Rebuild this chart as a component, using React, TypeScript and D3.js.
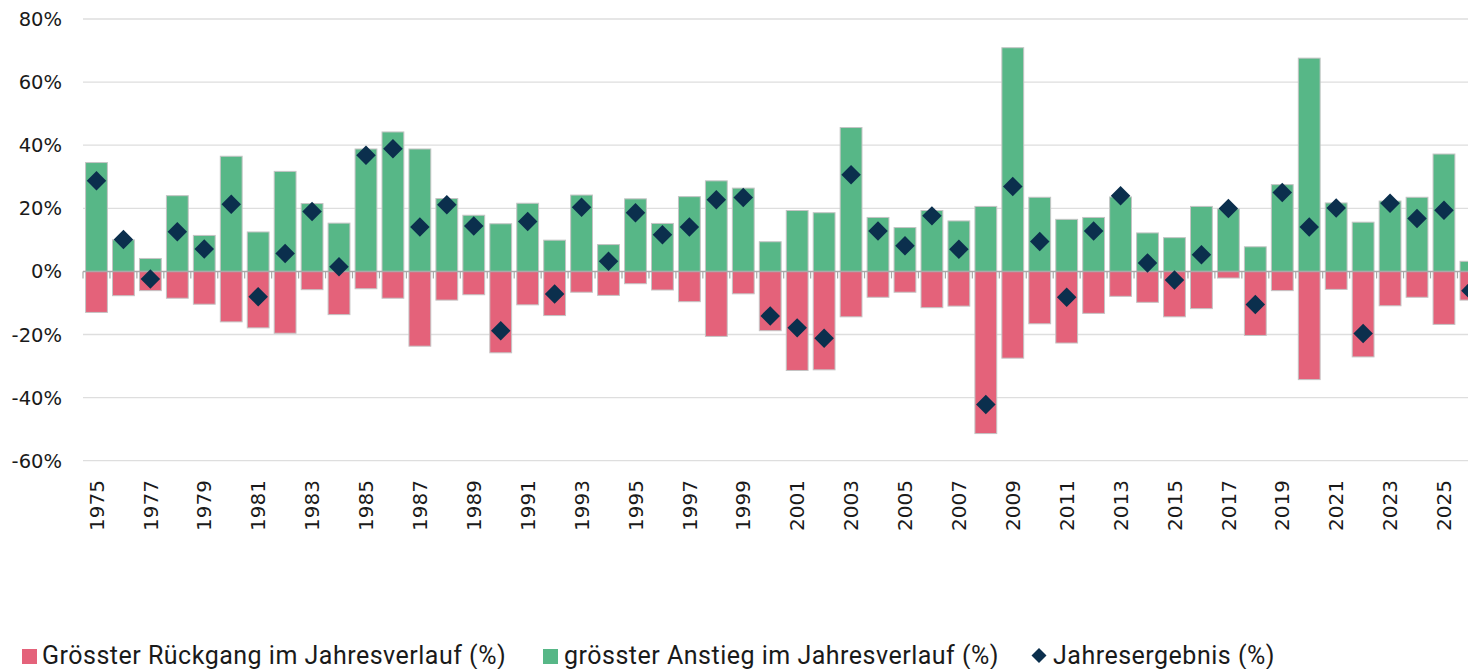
import { useEffect, useRef } from 'react'
import * as d3 from 'd3'

const W = 1468
const H = 669

const YEARS = d3.range(1975, 2027).map(String)

// grösster Anstieg im Jahresverlauf (%)
const MAX_RISE = [
  34.5, 10.0, 4.1, 24.0, 11.4, 36.5, 12.5, 31.7, 21.5, 15.3, 38.8, 44.2,
  38.8, 23.1, 17.8, 15.1, 21.6, 9.9, 24.2, 8.5, 23.0, 15.2, 23.7, 28.7, 26.4, 9.4,
  19.3, 18.6, 45.6, 17.1, 13.9, 19.3, 16.0, 20.6, 70.9, 23.5, 16.5, 17.1, 23.6, 12.2,
  10.7, 20.6, 19.8, 7.8, 27.5, 67.6, 21.7, 15.6, 22.3, 23.5, 37.2, 3.2
]

// Grösster Rückgang im Jahresverlauf (%)
const MAX_DROP = [
  -13.0, -7.7, -6.1, -8.5, -10.4, -16.0, -17.9, -19.6, -5.8, -13.7, -5.5, -8.5,
  -23.7, -9.1, -7.4, -25.8, -10.6, -14.0, -6.6, -7.6, -3.9, -5.9, -9.6, -20.6, -7.1, -18.8,
  -31.4, -31.2, -14.4, -8.2, -6.6, -11.5, -11.0, -51.4, -27.5, -16.6, -22.7, -13.3, -7.9, -9.8,
  -14.4, -11.8, -2.1, -20.3, -6.1, -34.3, -5.7, -27.1, -10.9, -8.2, -16.8, -9.1
]

// Jahresergebnis (%)
const YEAR_RESULT = [
  28.7, 10.1, -2.4, 12.6, 7.1, 21.3, -8.0, 5.7, 19.0, 1.5, 36.8, 38.9,
  14.1, 21.1, 14.4, -18.8, 15.8, -7.2, 20.3, 3.2, 18.6, 11.6, 14.1, 22.7, 23.4, -14.1,
  -17.9, -21.2, 30.6, 12.8, 8.1, 17.6, 7.0, -42.2, 26.9, 9.5, -8.2, 12.8, 24.0, 2.7,
  -2.7, 5.3, 19.9, -10.5, 25.0, 14.1, 20.1, -19.7, 21.6, 16.8, 19.4, -6.1
]

const Y_TICKS = [-60, -40, -20, 0, 20, 40, 60, 80]

const GREEN = '#57b787'
const RED = '#e4627a'
const NAVY = '#0b2f4d'

const LEGEND = [
  { label: 'Grösster Rückgang im Jahresverlauf (%)', color: RED, shape: 'square', mx: 22, tx: 42 },
  { label: 'grösster Anstieg im Jahresverlauf (%)', color: GREEN, shape: 'square', mx: 543, tx: 564 },
  { label: 'Jahresergebnis (%)', color: NAVY, shape: 'diamond', mx: 1031, tx: 1053 }
]

export default function App() {
  const ref = useRef<SVGSVGElement | null>(null)

  useEffect(() => {
    if (!ref.current) return
    const svg = d3.select(ref.current)
    svg.selectAll('*').remove()

    const left = 83
    const step = 26.95
    const x = d3
      .scaleBand<string>()
      .domain(YEARS)
      .range([left, left + step * YEARS.length])
      .paddingInner(0.19)
      .paddingOuter(0.095)
    const y = d3.scaleLinear().domain([-60, 80]).range([460.7, 19])

    // Gridlines
    svg
      .append('g')
      .selectAll('line')
      .data(Y_TICKS.filter((t) => t !== 0))
      .join('line')
      .attr('x1', left)
      .attr('x2', W)
      .attr('y1', (d) => y(d))
      .attr('y2', (d) => y(d))
      .attr('stroke', '#dedede')
      .attr('stroke-width', 1.3)

    // Y labels
    svg
      .append('g')
      .selectAll('text')
      .data(Y_TICKS)
      .join('text')
      .attr('x', 62)
      .attr('y', (d) => y(d))
      .attr('dy', '0.36em')
      .attr('text-anchor', 'end')
      .attr('font-family', 'DejaVu Sans, sans-serif')
      .attr('font-size', 19.5)
      .attr('fill', '#1a1a1a')
      .text((d) => `${d}%`)

    // Bars
    const bars = svg.append('g')
    const barData = YEARS.map((yr, i) => ({ yr, rise: MAX_RISE[i], drop: MAX_DROP[i], res: YEAR_RESULT[i] }))
    bars
      .selectAll('rect.drop')
      .data(barData)
      .join('rect')
      .attr('class', 'drop')
      .attr('x', (d) => x(d.yr)!)
      .attr('width', x.bandwidth())
      .attr('y', y(0))
      .attr('height', (d) => y(d.drop) - y(0))
      .attr('fill', RED)
      .attr('stroke', '#c4c4c4')
      .attr('stroke-width', 1)
    bars
      .selectAll('rect.rise')
      .data(barData)
      .join('rect')
      .attr('class', 'rise')
      .attr('x', (d) => x(d.yr)!)
      .attr('width', x.bandwidth())
      .attr('y', (d) => y(d.rise))
      .attr('height', (d) => y(0) - y(d.rise))
      .attr('fill', GREEN)
      .attr('stroke', '#c4c4c4')
      .attr('stroke-width', 1)

    // Zero axis with ticks at band edges
    svg
      .append('line')
      .attr('x1', left)
      .attr('x2', W)
      .attr('y1', y(0))
      .attr('y2', y(0))
      .attr('stroke', '#a8a8a8')
      .attr('stroke-width', 1.5)
    svg
      .append('g')
      .selectAll('line')
      .data(d3.range(YEARS.length + 1))
      .join('line')
      .attr('x1', (i) => left + i * x.step())
      .attr('x2', (i) => left + i * x.step())
      .attr('y1', y(0))
      .attr('y2', y(0) + 7)
      .attr('stroke', '#a8a8a8')
      .attr('stroke-width', 1.2)

    // Diamonds
    const diamond = d3.symbol(d3.symbolSquare, 190)
    svg
      .append('g')
      .selectAll('path')
      .data(barData)
      .join('path')
      .attr('d', diamond()!)
      .attr('transform', (d) => `translate(${x(d.yr)! + x.bandwidth() / 2},${y(d.res)}) rotate(45)`)
      .attr('fill', NAVY)

    // X labels (every second year)
    svg
      .append('g')
      .selectAll('text')
      .data(YEARS.filter((_, i) => i % 2 === 0))
      .join('text')
      .attr('transform', (d) => `translate(${x(d)! + x.bandwidth() / 2},480) rotate(-90)`)
      .attr('dy', '0.36em')
      .attr('text-anchor', 'end')
      .attr('font-family', 'DejaVu Sans, sans-serif')
      .attr('font-size', 20)
      .attr('fill', '#1a1a1a')
      .text((d) => d)

    // Legend
    const lg = svg.append('g')
    LEGEND.forEach((item) => {
      if (item.shape === 'square') {
        lg.append('rect')
          .attr('x', item.mx)
          .attr('y', 649)
          .attr('width', 15)
          .attr('height', 15)
          .attr('fill', item.color)
      } else {
        lg.append('path')
          .attr('d', d3.symbol(d3.symbolSquare, 112)()!)
          .attr('transform', `translate(${item.mx + 8},655.5) rotate(45)`)
          .attr('fill', item.color)
      }
      lg.append('text')
        .attr('x', item.tx)
        .attr('y', 664)
        .attr('font-family', 'Roboto, sans-serif')
        .attr('font-size', 25)
        .attr('letter-spacing', 0.5)
        .attr('fill', '#1a1a1a')
        .text(item.label)
    })
  }, [])

  return (
    <svg
      ref={ref}
      width={W}
      height={H}
      style={{ position: 'absolute', left: 0, top: 0, background: '#fff' }}
    />
  )
}
